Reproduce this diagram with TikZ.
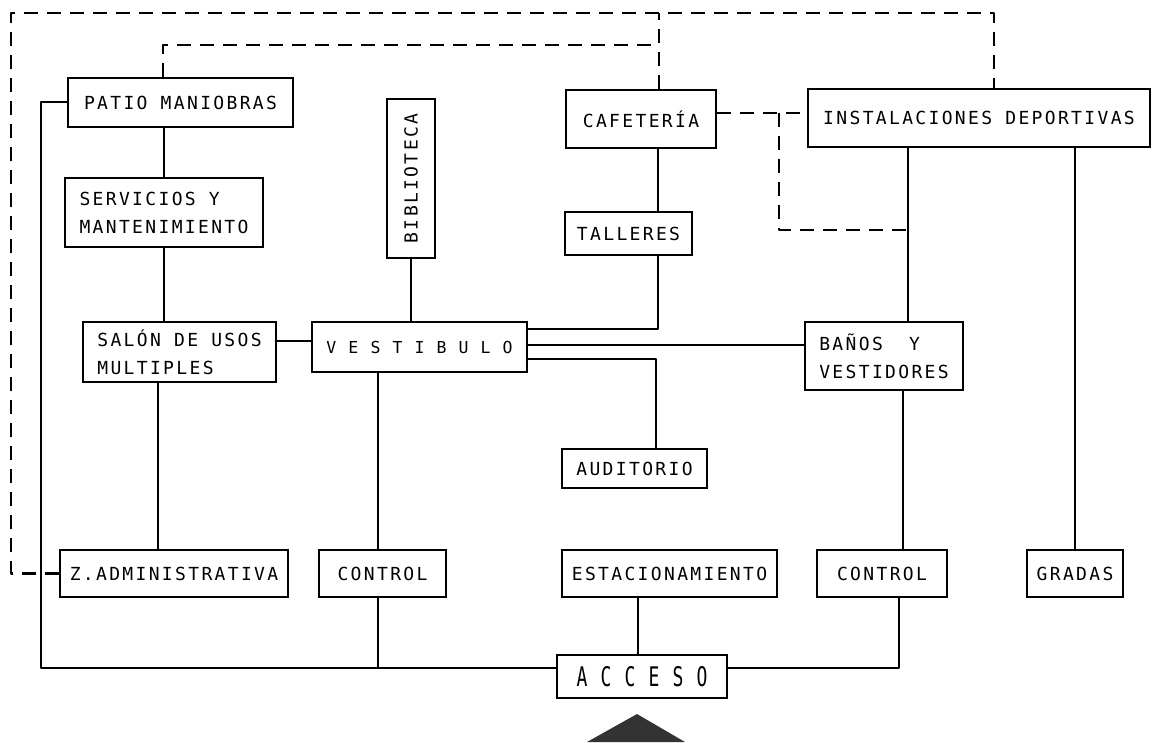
\documentclass[tikz,border=0pt]{standalone}
\usepackage{fontspec}
\usepackage{graphicx}
\newfontfamily\planfont{DejaVu Sans Mono}[LetterSpace=13]
\tikzset{
    lab/.style={
        font=\planfont\fontsize{18}{28}\selectfont
    }
}
\begin{document}
\begin{tikzpicture}[x=1pt,y=-1pt, line cap=round, line join=round]

\tikzset{
  room/.style={lab, draw=black, line width=2.4pt, line join=miter, inner sep=0pt, align=left},
  wire/.style={draw=black, line width=2pt},
  dwire/.style={draw=black, line width=2.2pt, line cap=butt, dash pattern=on 14pt off 9pt},
}

\useasboundingbox (0,0) rectangle (1155,743);

% rooms
\node[room, minimum width=225pt, minimum height=49pt] (patio) at (180.5,102.5) {PATIO MANIOBRAS};
\node[room, minimum width=198pt, minimum height=69pt] (serv) at (164,212.5) {SERVICIOS Y\\MANTENIMIENTO};
\node[room, minimum width=193pt, minimum height=60pt] (salon) at (179.5,352) {SALÓN DE USOS\\MULTIPLES};
\node[room, minimum width=48pt, minimum height=159pt] (biblio) at (411,178.5) {\rotatebox{90}{BIBLIOTECA}};
\node[room, minimum width=215pt, minimum height=50pt, font=\planfont\fontsize{16.5}{20}\selectfont] (vest) at (419.5,347) {V E S T I B U L O};
\node[room, minimum width=150pt, minimum height=58pt] (cafe) at (641,119) {CAFETERÍA};
\node[room, minimum width=127pt, minimum height=43pt] (tall) at (628.5,233.5) {TALLERES};
\node[room, minimum width=342pt, minimum height=58pt] (inst) at (979,118) {INSTALACIONES DEPORTIVAS};
\node[room, minimum width=158pt, minimum height=68pt] (banos) at (884,356) {BAÑOS\ \ Y\\VESTIDORES};
\node[room, minimum width=145pt, minimum height=39pt] (audit) at (634.5,468.5) {AUDITORIO};
\node[room, minimum width=228pt, minimum height=47pt] (zadm) at (174,573.5) {Z.ADMINISTRATIVA};
\node[room, minimum width=127pt, minimum height=47pt] (ctrlA) at (382.5,573.5) {CONTROL};
\node[room, minimum width=215pt, minimum height=47pt] (estac) at (669.5,573.5) {ESTACIONAMIENTO};
\node[room, minimum width=130pt, minimum height=47pt] (ctrlB) at (882,573.5) {CONTROL};
\node[room, minimum width=96pt, minimum height=47pt] (gradas) at (1075,573.5) {GRADAS};
\node[room, minimum width=170pt, minimum height=43pt] (acceso) at (642,676.5) {\scalebox{1}[1.5]{A C C E S O}};

\coordinate (bus) at ([yshift=9pt]acceso.west);
\coordinate (outerNW) at (11,13);
\coordinate (innerNW) at (163,45);
\coordinate (dashBend) at (779,230);

% left column
\draw[wire] (serv.north) -- (serv.north |- patio.south);
\draw[wire] (serv.south) -- (serv.south |- salon.north);
\draw[wire] ([xshift=-22pt]salon.south) -- ([xshift=-22pt]salon.south |- zadm.north);
\draw[wire] ([yshift=6pt]vest.west) -- ([yshift=6pt]vest.west -| salon.east);

% vestibulo
\draw[wire] (biblio.south) -- (biblio.south |- vest.north);
\draw[wire] ([xshift=-5pt]ctrlA.north) -- ([xshift=-5pt]ctrlA.north |- vest.south);
\draw[wire] ([yshift=18pt]vest.east) -| ([xshift=29.5pt]tall.south);
\draw[wire] ([yshift=2pt]vest.east) -- ([yshift=2pt]vest.east -| banos.west);
\draw[wire] ([yshift=-12pt]vest.east) -| ([xshift=21.5pt]audit.north);
\draw[wire] ([xshift=17pt]cafe.south) -- ([xshift=17pt]cafe.south |- tall.north);

% deportes
\draw[wire] ([xshift=-71pt]inst.south) -- ([xshift=-71pt]inst.south |- banos.north);
\draw[wire] ([xshift=21pt]ctrlB.north) -- ([xshift=21pt]ctrlB.north |- banos.south);
\draw[wire] (gradas.north) -- (gradas.north |- inst.south);

% acceso
\draw[wire] ([xshift=17pt]ctrlB.south) |- ([yshift=9pt]acceso.east);
\draw[wire] ([xshift=-4pt]acceso.north) -- ([xshift=-4pt]acceso.north |- estac.south);
\draw[wire] (bus) -| ([xshift=-26pt]patio.west) -- (patio.west);
\draw[wire] ([xshift=-5pt]ctrlA.south) -- ([xshift=-5pt]ctrlA.south |- bus);

% dashed links
\draw[dwire] (zadm.west) -| (outerNW) -| ([xshift=15pt]inst.north);
\draw[dwire] ([xshift=18pt]cafe.north) -- ([xshift=18pt]cafe.north |- outerNW);
\draw[dwire] (patio.north -| innerNW) -- (innerNW) -- ([xshift=18pt]innerNW -| cafe.north);
\draw[dwire] ([yshift=6pt]cafe.east) -- ([yshift=6pt]cafe.east -| inst.west);
\draw[dwire] ([yshift=6pt]dashBend |- cafe.east) -- (dashBend) -- ([xshift=-71pt]dashBend -| inst.south);

% entrada
\fill[black!80] (587,742) -- (637,714) -- (685,742) -- cycle;

\end{tikzpicture}
\end{document}
